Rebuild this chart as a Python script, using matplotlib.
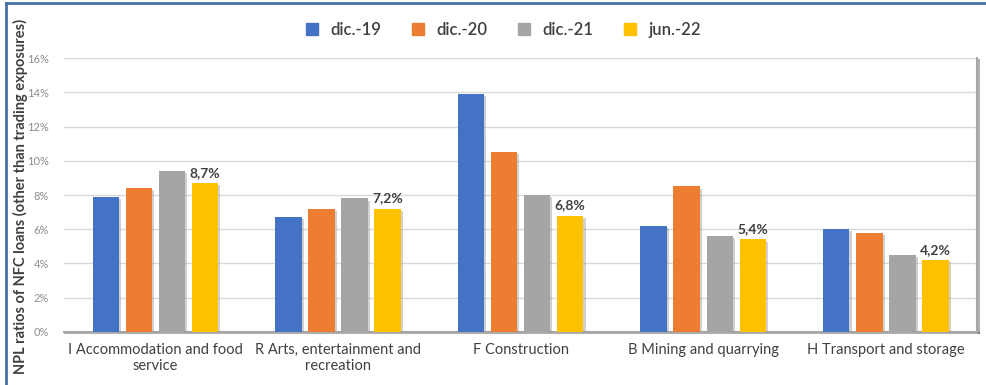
import numpy as np
import matplotlib.pyplot as plt
import matplotlib.patheffects as pe
from matplotlib.lines import Line2D

plt.rcParams['font.family'] = ['Lato', 'DejaVu Sans']

sectors = ['I Accommodation and food\nservice', 'R Arts, entertainment and\nrecreation',
           'F Construction', 'B Mining and quarrying', 'H Transport and storage']
periods = ['dic.-19', 'dic.-20', 'dic.-21', 'jun.-22']
dic19 = [7.9, 6.7, 13.9, 6.2, 6.0]
dic20 = [8.4, 7.2, 10.5, 8.5, 5.8]
dic21 = [9.4, 7.8, 8.0, 5.6, 4.5]
jun22 = [8.7, 7.2, 6.8, 5.4, 4.2]
colors = ['#4472c4', '#ed7d31', '#a5a5a5', '#ffc000']

fig = plt.figure(figsize=(9.86, 3.85), dpi=100)
ax = fig.add_axes((0.065, 0.138, 0.926, 0.711))

x = np.arange(len(sectors))
w = 0.145
step = 0.181
shadow = [pe.SimplePatchShadow(offset=(1.5, -1.5), shadow_rgbFace='#8c8c8c', alpha=0.4), pe.Normal()]
for i, (vals, c) in enumerate(zip([dic19, dic20, dic21, jun22], colors)):
    bars = ax.bar(x + (i - 1.5) * step, vals, w, color=c, zorder=3)
    for b in bars:
        b.set_path_effects(shadow)

# labels on the latest period
for xi, v in zip(x + 1.5 * step, jun22):
    ax.text(xi, v + 0.25, f'{v:.1f}%'.replace('.', ','), ha='center', va='bottom',
            fontsize=10, fontweight='bold', color='#404040', zorder=4)

ax.set_xlim(-0.5, len(sectors) - 0.5)
ax.set_ylim(0, 16)
ax.set_yticks(np.arange(0, 17, 2))
ax.set_yticklabels([f'{t}%' for t in range(0, 17, 2)])
ax.set_xticks(x)
ax.set_xticklabels(sectors, fontsize=10.5, color='#404040')
ax.tick_params(axis='y', labelsize=8, labelcolor='#8c8c8c', length=0, pad=11)
ax.tick_params(axis='x', length=0, pad=8)
ax.grid(axis='y', color='#d9d9d9', linewidth=1, zorder=0)
for s in ['left', 'top']:
    ax.spines[s].set_visible(False)
for s in ['right', 'bottom']:
    ax.spines[s].set_color('#a6a6a6')
    ax.spines[s].set_linewidth(1.5)
    ax.spines[s].set_path_effects([pe.SimpleLineShadow(offset=(1, -1), alpha=0.3), pe.Normal()])

fig.text(0.013, 0.49, 'NPL ratios of NFC loans (other than trading exposures)', rotation=90,
         ha='left', va='center', fontsize=10.5, fontweight='bold', color='#404040')

handles = [Line2D([], [], marker='s', linestyle='none', markersize=8, color=c) for c in colors]
fig.legend(handles, periods, loc='center', bbox_to_anchor=(0.505, 0.922), ncol=4, frameon=False,
           fontsize=12, handletextpad=0.1, columnspacing=1.2, labelcolor='#404040',
           prop={'weight': 'semibold', 'size': 12})

# outer frame, left and top edges
fig.add_artist(Line2D([0.006, 0.006], [0, 0.992], color='#4a6fa5', linewidth=2, transform=fig.transFigure))
fig.add_artist(Line2D([0.006, 1.0], [0.992, 0.992], color='#4a6fa5', linewidth=2, transform=fig.transFigure))

fig.savefig('out.png', dpi=100)
